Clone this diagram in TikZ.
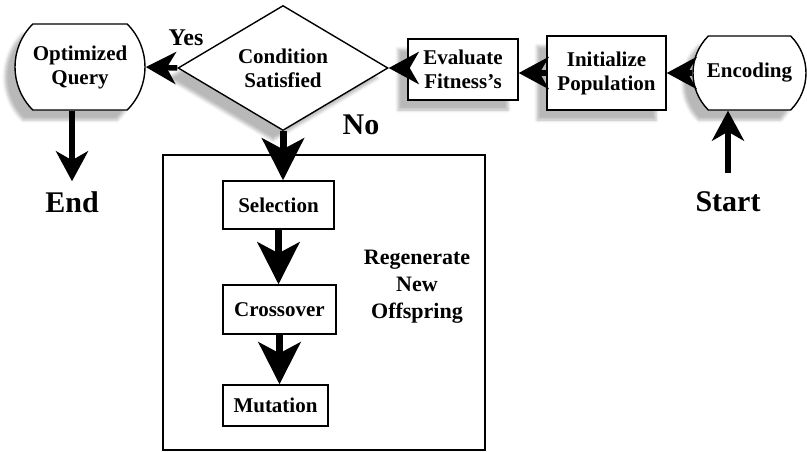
\documentclass[tikz,border=0pt]{standalone}
\usepackage{fontspec}
\setmainfont{Liberation Serif}
\usetikzlibrary{arrows.meta, shapes.geometric, shapes.misc, shadows.blur}

\begin{document}
\begin{tikzpicture}[x=1pt, y=-1pt,
    every node/.style={font=\bfseries\fontsize{21}{24}\selectfont, align=center},
    stepbox/.style={draw, line width=1.4pt, fill=white, inner sep=0pt},
    pill/.style={stepbox, rounded rectangle, rounded rectangle arc length=90},
    dropshadow/.style={blur shadow={shadow xshift=-10pt, shadow yshift=-10pt,
        shadow blur radius=3pt, shadow blur steps=4, shadow opacity=28}},
    flow/.style={line width=5.5pt, -{Stealth[length=30pt, width=32pt, inset=9pt]}},
    bigflow/.style={line width=7pt, -{Stealth[length=42pt, width=42pt, inset=11pt]}},
    biglabel/.style={font=\bfseries\fontsize{30}{32}\selectfont, inner sep=0pt}]
    \useasboundingbox (0,0) rectangle (807,451);

    % Top row, right to left
    \node[pill, dropshadow, minimum width=113pt, minimum height=74pt] (enc) at (749.5,73) {Encoding};
    \node[stepbox, dropshadow, minimum width=119pt, minimum height=74pt] (init) at (606.5,73) {Initialize\\Population};
    \node[stepbox, dropshadow, minimum width=110pt, minimum height=61pt] (eval) at (463,69.5) {Evaluate\\Fitness's};
    \node[stepbox, diamond, aspect=1.7, dropshadow, minimum width=210pt, minimum height=125pt] (cond) at (283,68) {Condition\\Satisfied};
    \node[pill, dropshadow, minimum width=130pt, minimum height=86pt] (query) at (80,67) {Optimized\\Query};

    % Start / end and branch labels
    \node[biglabel] (start) at (728,202) {Start};
    \node[biglabel] (end) at (72,202) {End};
    \node[font=\bfseries\fontsize{24}{26}\selectfont, inner sep=0pt] (yes) at (186,38) {Yes};
    \node[biglabel] (no) at (361,125) {No};

    % Regeneration block
    \node[draw, line width=1.4pt, inner sep=0pt, minimum width=322pt, minimum height=295pt] (regen) at (324,302.5) {};
    \node[stepbox, minimum width=111pt, minimum height=48pt] (sel) at (278.5,205) {Selection};
    \node[stepbox, minimum width=113pt, minimum height=49pt] (cross) at (279.5,309.5) {Crossover};
    \node[stepbox, minimum width=105pt, minimum height=41pt] (mut) at (275.5,405.5) {Mutation};
    \node[font=\bfseries\fontsize{22}{27}\selectfont] (regenlabel) at (417,287) {Regenerate\\New\\Offspring};

    % Arrows along the top row
    \draw[flow] ([yshift=19pt]start.north) -- (enc.south -| start.north);
    \draw[flow] (enc.west) -- (init.east);
    \draw[flow] (init.west) -- (eval.east |- init.west);
    \draw[flow] (eval.west |- cond) -- (cond.east);
    \draw[flow] (cond.west) -- (query.east);
    \draw[flow] (query.south -| end.north) -- ([yshift=10pt]end.north);

    % Arrows down through the block
    \draw[bigflow] (cond.south) -- (cond.south |- sel.north);
    \draw[bigflow] (sel.south) -- (sel.south |- cross.north);
    \draw[bigflow] (cross.south) -- (cross.south |- mut.north);
\end{tikzpicture}
\end{document}
